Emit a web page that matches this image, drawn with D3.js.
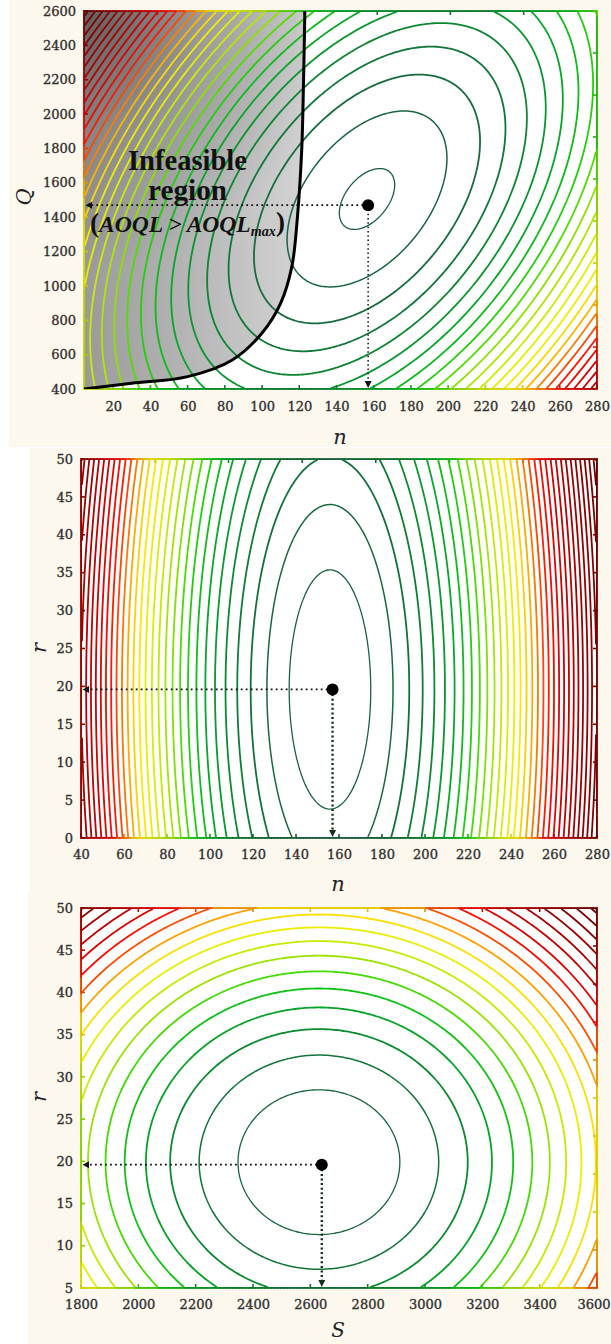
<!DOCTYPE html>
<html><head><meta charset="utf-8">
<script src="https://cdn.jsdelivr.net/npm/d3@7"></script>
<style>body{margin:0;background:#fff}svg{display:block}</style>
</head><body>
<svg id="chart" width="611" height="1344"></svg>
<script>
// ---------------- data ----------------
// Panel 1 : Q versus n
const panel1XDomain = [4.3, 280];
const panel1YDomain = [400, 2600];
const panel1XTicks = [20, 40, 60, 80, 100, 120, 140, 160, 180, 200, 220, 240, 260, 280];
const panel1YTicks = [400, 600, 800, 1000, 1200, 1400, 1600, 1800, 2000, 2200, 2400, 2600];
const panel1TopTicks = [43.7, 83.1, 122.5, 161.9, 201.2, 240.6];
const panel1RightTicks = [644, 889, 1133, 1378, 1622, 1867, 2111, 2356];
const panel1Optimum = [157, 1470];
const panel1Center = [156.4, 1506];
const panel1Spread = [38.1, 454];
const panel1Tilt = 0.462;
const panel1Levels = [0.12, 1, 2, 3, 4, 5, 6, 7, 8, 9, 10, 11, 12, 13, 14, 15, 16, 17, 18, 19, 20, 21, 22, 23, 24, 25, 26, 27, 28, 29, 30];
const boundaryN = [4.3, 30, 60, 84, 100, 110, 116, 119, 121.3, 122.3, 123];
const boundaryQ = [400, 433, 472, 569, 726, 900, 1112, 1400, 1790, 2200, 2600];

// Panel 2 : r versus n
const panel2XDomain = [40, 280];
const panel2YDomain = [0, 50];
const panel2XTicks = [40, 60, 80, 100, 120, 140, 160, 180, 200, 220, 240, 260, 280];
const panel2YTicks = [0, 5, 10, 15, 20, 25, 30, 35, 40, 45, 50];
const panel2TopTicks = [74.3, 108.6, 142.9, 177.1, 211.4, 245.7];
const panel2RightTicks = [5, 10, 15, 20, 25, 30, 35, 40, 45];
const panel2Optimum = [157, 19.6];
const panel2Center = [155.8, 19.6];
const panel2Spread = [22.36, 18.6];
const panel2Tilt = 0;
const panel2Levels = [0.72, 1.72, 2.72, 3.72, 4.72, 5.72, 6.72, 7.72, 8.72, 9.72, 10.72, 11.72, 12.72, 13.72, 14.72, 15.72, 16.72, 17.72, 18.72, 19.72, 20.72, 21.72, 22.72, 23.72, 24.72, 25.72, 26.72, 27.72, 28.72, 29.72, 30.72, 31.72, 32.72, 33.72];

// Panel 3 : r versus S
const panel3XDomain = [1800, 3600];
const panel3YDomain = [5, 50];
const panel3XTicks = [1800, 2000, 2200, 2400, 2600, 2800, 3000, 3200, 3400, 3600];
const panel3YTicks = [5, 10, 15, 20, 25, 30, 35, 40, 45, 50];
const panel3TopTicks = [2000, 2200, 2400, 2600, 2800, 3000, 3200, 3400];
const panel3RightTicks = [9.5, 14, 18.5, 23, 27.5, 32, 36.5, 41, 45.5];
const panel3Optimum = [2640, 19.6];
const panel3Center = [2630, 19.9];
const panel3Spread = [308, 9.35];
const panel3Tilt = 0;
const panel3Levels = [0.84, 1.84, 2.84, 3.84, 4.84, 5.84, 6.84, 7.84, 8.84, 9.84, 10.84, 11.84, 12.84, 13.84, 14.84, 15.84, 16.84, 17.84, 18.84, 19.84, 20.84];

// colour ramp of the contour levels (fraction of the surface range)
const colorStops = [0, 0.08, 0.14, 0.2, 0.25, 0.29, 0.33, 0.38, 0.43, 0.48, 0.52, 0.55, 0.59, 0.63, 0.7, 0.8, 1];
const colorValues = ['#1c5c44', '#13703a', '#0b8a30', '#06a828', '#12c812', '#44dc00', '#90e200', '#c0ea00', '#e6ef00', '#fbe800', '#ffc000', '#ff8c00', '#ff4a00', '#ff1000', '#d80000', '#a60000', '#6e0000'];

// ---------------- drawing ----------------
const svg = d3.select('#chart');
const defs = svg.append('defs');
svg.append('rect').attr('width', 611).attr('height', 1344).attr('fill', '#ffffff');
[[9, 0, 602, 447], [30, 448, 581, 445], [28, 893, 583, 451]].forEach(r =>
  svg.append('rect').attr('x', r[0]).attr('y', r[1]).attr('width', r[2]).attr('height', r[3]).attr('fill', '#fdf8ee'));

const tickFont = 'DejaVu Serif, serif';

function quadSurface(center, spread, tilt) {
  return (xv, yv) => {
    const u = (xv - center[0]) / spread[0], w = (yv - center[1]) / spread[1];
    return u * u + w * w - 2 * tilt * u * w;
  };
}

function makePanel(cfg) {
  const { x0, x1, y0, y1 } = cfg.box;
  const x = d3.scaleLinear().domain(cfg.xDomain).range([x0, x1]);
  const y = d3.scaleLinear().domain(cfg.yDomain).range([y1, y0]);
  const g = svg.append('g');
  const clipId = 'clip' + cfg.id;
  defs.append('clipPath').attr('id', clipId).append('rect')
    .attr('x', x0).attr('y', y0).attr('width', x1 - x0).attr('height', y1 - y0);
  g.append('rect').attr('x', x0).attr('y', y0).attr('width', x1 - x0).attr('height', y1 - y0).attr('fill', '#fff');

  const surface = quadSurface(cfg.center, cfg.spread, cfg.tilt);
  const nx = 250, ny = 190;
  const gx = d3.scaleLinear().domain([0, nx]).range([x0, x1]);
  const gy = d3.scaleLinear().domain([0, ny]).range([y0, y1]);
  const values = new Float64Array(nx * ny);
  for (let j = 0; j < ny; j++)
    for (let i = 0; i < nx; i++)
      values[j * nx + i] = surface(x.invert(gx(i + 0.5)), y.invert(gy(j + 0.5)));
  const fmax = d3.max(values);
  const ramp = d3.scaleLinear().domain(colorStops).range(colorValues).clamp(true);
  const levelColor = v => ramp(v / fmax);
  const localColor = f => {
    let lv = null;
    cfg.levels.forEach(l => { if (l <= f) lv = l; });
    return lv === null ? ramp(0) : levelColor(lv);
  };

  if (cfg.underlay) cfg.underlay(g, x, y, clipId);

  const contours = d3.contours().size([nx, ny]).thresholds(cfg.levels)(values);
  const path = d3.geoPath(d3.geoTransform({ point(px, py) { this.stream.point(gx(px), gy(py)); } }));
  g.append('g').attr('clip-path', `url(#${clipId})`)
    .selectAll('path').data(contours).join('path')
    .attr('d', path)
    .attr('fill', 'none')
    .attr('stroke', d => levelColor(d.value))
    .attr('stroke-width', (d, i) => i === 0 ? 1.3 : (i === 1 ? 1.5 : 1.8))
    .attr('stroke-linejoin', 'round');

  // coloured frame
  const frame = g.append('g');
  const N = 160;
  const sides = [
    t => [cfg.xDomain[0] + t * (cfg.xDomain[1] - cfg.xDomain[0]), cfg.yDomain[0]],
    t => [cfg.xDomain[0] + t * (cfg.xDomain[1] - cfg.xDomain[0]), cfg.yDomain[1]],
    t => [cfg.xDomain[0], cfg.yDomain[0] + t * (cfg.yDomain[1] - cfg.yDomain[0])],
    t => [cfg.xDomain[1], cfg.yDomain[0] + t * (cfg.yDomain[1] - cfg.yDomain[0])]
  ];
  sides.forEach(side => {
    for (let k = 0; k < N; k++) {
      const a = side(k / N), b = side((k + 1) / N), m = side((k + 0.5) / N);
      frame.append('line')
        .attr('x1', x(a[0])).attr('y1', y(a[1])).attr('x2', x(b[0])).attr('y2', y(b[1]))
        .attr('stroke', d3.color(localColor(surface(m[0], m[1]))).darker(0.3))
        .attr('stroke-width', 1.6).attr('stroke-linecap', 'square');
    }
  });

  // inward tick marks
  const ticks = g.append('g');
  const tickLen = 4;
  cfg.xTicks.forEach(v => {
    ticks.append('line').attr('x1', x(v)).attr('x2', x(v)).attr('y1', y1).attr('y2', y1 - tickLen)
      .attr('stroke', d3.color(localColor(surface(v, cfg.yDomain[0]))).darker(0.4)).attr('stroke-width', 1.6);
  });
  cfg.topTicks.forEach(v => {
    ticks.append('line').attr('x1', x(v)).attr('x2', x(v)).attr('y1', y0).attr('y2', y0 + tickLen)
      .attr('stroke', d3.color(localColor(surface(v, cfg.yDomain[1]))).darker(0.4)).attr('stroke-width', 1.6);
  });
  cfg.yTicks.forEach(v => {
    ticks.append('line').attr('x1', x0).attr('x2', x0 + tickLen).attr('y1', y(v)).attr('y2', y(v))
      .attr('stroke', d3.color(localColor(surface(cfg.xDomain[0], v))).darker(0.4)).attr('stroke-width', 1.6);
  });
  cfg.rightTicks.forEach(v => {
    ticks.append('line').attr('x1', x1).attr('x2', x1 - tickLen).attr('y1', y(v)).attr('y2', y(v))
      .attr('stroke', d3.color(localColor(surface(cfg.xDomain[1], v))).darker(0.4)).attr('stroke-width', 1.6);
  });

  // tick labels through d3 axes
  const ax = g.append('g').attr('transform', `translate(0,${y1})`)
    .call(d3.axisBottom(x).tickValues(cfg.xTicks).tickSize(0).tickPadding(cfg.xPad).tickFormat(d3.format('d')));
  const ay = g.append('g').attr('transform', `translate(${x0},0)`)
    .call(d3.axisLeft(y).tickValues(cfg.yTicks).tickSize(0).tickPadding(8).tickFormat(d3.format('d')));
  [ax, ay].forEach(a => {
    a.select('.domain').remove();
    a.selectAll('text').attr('font-family', tickFont).attr('font-size', 13).attr('fill', '#303030')
      .attr('stroke', '#303030').attr('stroke-width', 0.35);
  });
  // keep the last bottom label inside the page
  ax.selectAll('.tick').each(function (d) {
    const t = d3.select(this).select('text');
    const bb = t.node().getBBox();
    const right = x(d) + bb.x + bb.width;
    if (right > 610) t.attr('x', 610 - right);
  });

  if (cfg.overlay) cfg.overlay(g, x, y, clipId);

  // optimum guides
  const [ox, oy] = cfg.optimum;
  const px = x(ox), py = y(oy);
  g.append('line').attr('x1', px).attr('y1', py).attr('x2', x0 + 7).attr('y2', py)
    .attr('stroke', '#111').attr('stroke-width', 1.8).attr('stroke-dasharray', '1.8,3.2');
  g.append('path').attr('d', `M${x0 + 1.5},${py}L${x0 + 8},${py - 3.5}L${x0 + 8},${py + 3.5}Z`).attr('fill', '#111');
  g.append('line').attr('x1', px).attr('y1', py).attr('x2', px).attr('y2', y1 - 7)
    .attr('stroke', cfg.vColor).attr('stroke-width', cfg.vWidth).attr('stroke-dasharray', cfg.vDash);
  g.append('path').attr('d', `M${px},${y1 - 1}L${px - 3.5},${y1 - 8}L${px + 3.5},${y1 - 8}Z`).attr('fill', cfg.vColor);
  g.append('circle').attr('cx', px).attr('cy', py).attr('r', 6).attr('fill', '#000');

  // axis titles
  g.append('text').attr('x', cfg.xTitlePos[0]).attr('y', cfg.xTitlePos[1]).attr('text-anchor', 'middle')
    .attr('font-family', 'DejaVu Serif, serif').attr('font-style', 'italic').attr('font-size', cfg.xTitleSize || 21).attr('fill', '#222')
    .text(cfg.xTitle);
  g.append('text').attr('transform', `translate(${cfg.yTitlePos[0]},${cfg.yTitlePos[1]}) rotate(-90)`)
    .attr('text-anchor', 'middle').attr('dy', '0.35em')
    .attr('font-family', 'DejaVu Serif, serif').attr('font-style', 'italic').attr('font-size', 21).attr('fill', '#222')
    .text(cfg.yTitle);
}

function fitWidth(sel, target) {
  const fs = parseFloat(sel.attr('font-size'));
  const w = sel.node().getComputedTextLength();
  if (w > 0) sel.attr('font-size', fs * target / w);
}

// Panel 1
makePanel({
  id: 1, box: { x0: 84, x1: 597, y0: 11, y1: 389 },
  xDomain: panel1XDomain, yDomain: panel1YDomain,
  xTicks: panel1XTicks, yTicks: panel1YTicks, topTicks: panel1TopTicks, rightTicks: panel1RightTicks,
  center: panel1Center, spread: panel1Spread, tilt: panel1Tilt, levels: panel1Levels,
  optimum: panel1Optimum, xPad: 13,
  vColor: '#111', vWidth: 1.5, vDash: '1.5,2.8',
  xTitle: 'n', xTitlePos: [340, 444], yTitle: 'Q', yTitlePos: [24, 197],
  underlay(g, x, y, clipId) {
    const lg = defs.append('linearGradient').attr('id', 'grayBase').attr('gradientUnits', 'userSpaceOnUse')
      .attr('x1', x(panel1XDomain[0])).attr('y1', 0).attr('x2', x(123)).attr('y2', 0);
    lg.append('stop').attr('offset', 0).attr('stop-color', '#9a9a9a');
    lg.append('stop').attr('offset', 1).attr('stop-color', '#d4d4d4');
    const rg = defs.append('radialGradient').attr('id', 'grayShade').attr('gradientUnits', 'userSpaceOnUse')
      .attr('cx', x(panel1XDomain[0])).attr('cy', y(panel1YDomain[1])).attr('r', 260);
    rg.append('stop').attr('offset', 0).attr('stop-color', '#4a4a4a').attr('stop-opacity', 0.72);
    rg.append('stop').attr('offset', 0.45).attr('stop-color', '#4a4a4a').attr('stop-opacity', 0.28);
    rg.append('stop').attr('offset', 1).attr('stop-color', '#4a4a4a').attr('stop-opacity', 0);
    const pts = boundaryN.map((n, i) => [n, boundaryQ[i]]);
    const line = d3.line().x(d => x(d[0])).y(d => y(d[1])).curve(d3.curveCatmullRom.alpha(0.5));
    const region = line(pts) + `L${x(panel1XDomain[0])},${y(panel1YDomain[1])}Z`;
    const gg = g.append('g').attr('clip-path', `url(#${clipId})`);
    gg.append('path').attr('d', region).attr('fill', 'url(#grayBase)');
    gg.append('path').attr('d', region).attr('fill', 'url(#grayShade)');
  },
  overlay(g, x, y, clipId) {
    const pts = boundaryN.map((n, i) => [n, boundaryQ[i]]);
    const line = d3.line().x(d => x(d[0])).y(d => y(d[1])).curve(d3.curveCatmullRom.alpha(0.5));
    g.append('g').attr('clip-path', `url(#${clipId})`).append('path').attr('d', line(pts))
      .attr('fill', 'none').attr('stroke', '#000').attr('stroke-width', 3);
    const cx = 187.5;
    const labelFont = 'Liberation Serif, serif';
    const t1 = g.append('text').attr('x', cx).attr('y', 170).attr('text-anchor', 'middle')
      .attr('font-family', labelFont).attr('font-weight', 'bold').attr('font-size', 26).attr('fill', '#111')
      .text('Infeasible');
    fitWidth(t1, 119);
    const t2 = g.append('text').attr('x', cx).attr('y', 200).attr('text-anchor', 'middle')
      .attr('font-family', labelFont).attr('font-weight', 'bold').attr('font-size', 26).attr('fill', '#111')
      .text('region');
    fitWidth(t2, 79);
    const t3 = g.append('text').attr('x', cx).attr('y', 232).attr('text-anchor', 'middle')
      .attr('font-family', labelFont).attr('font-weight', 'bold').attr('font-size', 24).attr('fill', '#111');
    t3.append('tspan').attr('font-size', '1.15em').text('(');
    t3.append('tspan').attr('font-style', 'italic').text('AOQL > AOQL');
    t3.append('tspan').attr('font-style', 'italic').attr('font-size', '0.6em').attr('dy', '0.25em').text('max');
    t3.append('tspan').attr('font-size', '1.15em').attr('dy', '-0.15em').text(')');
    fitWidth(t3, 195);
  }
});

// Panel 2
makePanel({
  id: 2, box: { x0: 81, x1: 597, y0: 459, y1: 838 },
  xDomain: panel2XDomain, yDomain: panel2YDomain,
  xTicks: panel2XTicks, yTicks: panel2YTicks, topTicks: panel2TopTicks, rightTicks: panel2RightTicks,
  center: panel2Center, spread: panel2Spread, tilt: panel2Tilt, levels: panel2Levels,
  optimum: panel2Optimum, xPad: 12,
  vColor: '#15301c', vWidth: 2.4, vDash: '2,2.6',
  xTitle: 'n', xTitlePos: [338, 891], yTitle: 'r', yTitlePos: [39, 648]
});

// Panel 3
makePanel({
  id: 3, box: { x0: 81, x1: 597, y0: 908, y1: 1288 },
  xDomain: panel3XDomain, yDomain: panel3YDomain,
  xTicks: panel3XTicks, yTicks: panel3YTicks, topTicks: panel3TopTicks, rightTicks: panel3RightTicks,
  center: panel3Center, spread: panel3Spread, tilt: panel3Tilt, levels: panel3Levels,
  optimum: panel3Optimum, xPad: 12,
  vColor: '#15301c', vWidth: 2.4, vDash: '2,2.6',
  xTitle: 'S', xTitleSize: 20, xTitlePos: [338, 1337], yTitle: 'r', yTitlePos: [39, 1097]
});
</script>
</body></html>
